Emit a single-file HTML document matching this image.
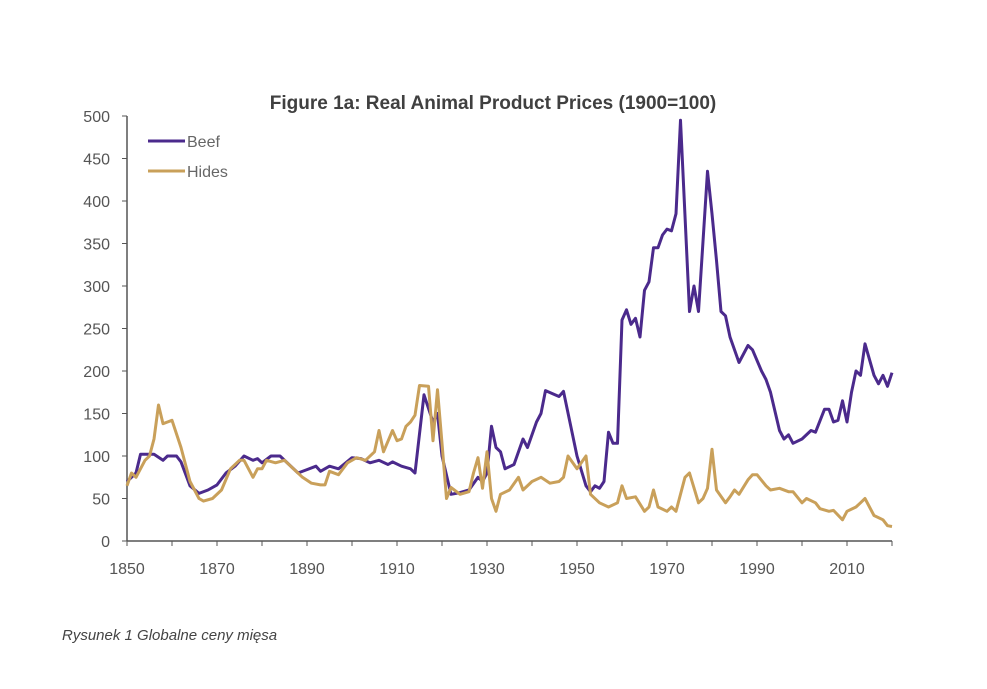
<!DOCTYPE html>
<html><head><meta charset="utf-8"><style>
body{margin:0;background:#fff;width:987px;height:684px;overflow:hidden;font-family:"Liberation Sans",sans-serif}
</style></head><body>
<svg width="987" height="684">
<text x="493" y="109" text-anchor="middle" font-size="19" font-weight="bold" fill="#404040">Figure 1a: Real Animal Product Prices (1900=100)</text>
<g id="axes"></g>
<g id="series"></g>
<g>
<line x1="148" y1="141" x2="185" y2="141" stroke="#4b2a8c" stroke-width="3"/>
<text x="187" y="147" font-size="16" fill="#666">Beef</text>
<line x1="148" y1="171" x2="185" y2="171" stroke="#c9a05a" stroke-width="3"/>
<text x="187" y="177" font-size="16" fill="#666">Hides</text>
</g>
<text x="62" y="640" font-size="15" font-style="italic" fill="#444">Rysunek 1 Globalne ceny mięsa</text>
</svg>
<script>
const yTicks=[0,50,100,150,200,250,300,350,400,450,500];
const xTicks=[1850,1870,1890,1910,1930,1950,1970,1990,2010];
const beefYears=[1850,1852,1853,1856,1858,1859,1861,1862,1864,1866,1868,1870,1872,1874,1876,1878,1879,1880,1882,1884,1886,1888,1890,1892,1893,1895,1897,1900,1902,1904,1906,1908,1909,1911,1913,1914,1916,1918,1919,1920,1922,1924,1926,1928,1929,1930,1931,1932,1933,1934,1936,1938,1939,1941,1942,1943,1946,1947,1950,1952,1953,1954,1955,1956,1957,1958,1959,1960,1961,1962,1963,1964,1965,1966,1967,1968,1969,1970,1971,1972,1973,1975,1976,1977,1979,1980,1981,1982,1983,1984,1986,1988,1989,1991,1992,1993,1995,1996,1997,1998,2000,2002,2003,2005,2006,2007,2008,2009,2010,2011,2012,2013,2014,2016,2017,2018,2019,2020];
const beefValues=[70,80,102,102,95,100,100,93,65,56,60,66,80,88,100,95,97,92,100,100,90,80,84,88,82,88,85,98,97,92,95,90,93,88,85,80,172,140,150,100,55,57,60,75,70,80,135,110,105,85,90,120,110,140,150,177,170,176,100,65,58,65,62,70,128,115,115,260,272,255,262,240,295,305,345,345,360,367,365,385,495,270,300,270,435,385,330,270,265,240,210,230,225,200,190,175,130,120,125,115,120,130,128,155,155,140,142,165,140,175,200,195,232,195,185,195,182,198];
const hidesYears=[1850,1851,1852,1853,1854,1855,1856,1857,1858,1859,1860,1862,1864,1866,1867,1869,1871,1873,1875,1876,1878,1879,1880,1881,1883,1885,1887,1889,1891,1893,1894,1895,1897,1899,1901,1903,1905,1906,1907,1909,1910,1911,1912,1913,1914,1915,1917,1918,1919,1920,1921,1922,1924,1926,1927,1928,1929,1930,1931,1932,1933,1935,1937,1938,1940,1942,1944,1946,1947,1948,1950,1952,1953,1955,1957,1959,1960,1961,1963,1965,1966,1967,1968,1970,1971,1972,1974,1975,1977,1978,1979,1980,1981,1983,1984,1985,1986,1988,1989,1990,1992,1993,1995,1997,1998,2000,2001,2003,2004,2006,2007,2009,2010,2012,2013,2014,2016,2018,2019,2020];
const hidesValues=[65,80,75,85,95,100,120,160,138,140,142,110,70,50,47,50,60,85,95,95,75,85,85,95,92,95,85,75,68,66,66,82,78,92,98,95,105,130,105,130,118,120,135,140,148,183,182,118,178,115,50,63,55,58,80,98,62,105,50,35,55,60,75,60,70,75,68,70,75,100,85,100,55,45,40,45,65,50,52,35,40,60,40,35,40,35,75,80,45,50,62,108,60,45,52,60,55,72,78,78,65,60,62,58,58,45,50,45,38,35,36,25,35,40,45,50,30,25,18,17];
const X=y=>127+(y-1850)*4.5;
const Y=v=>541-v*0.85;
const NS='http://www.w3.org/2000/svg';
const ax=document.getElementById('axes');
function mk(tag,attrs,parent){const e=document.createElementNS(NS,tag);for(const k in attrs)e.setAttribute(k,attrs[k]);parent.appendChild(e);return e;}
let l=mk('line',{x1:127,y1:Y(500),x2:127,y2:Y(0),stroke:'#555','stroke-width':1.5},ax);


l=mk('line',{x1:127,y1:Y(0),x2:X(2020),y2:Y(0),stroke:'#555','stroke-width':1.5},ax);


yTicks.forEach(v=>{
  mk('line',{x1:122,x2:127,y1:Y(v),y2:Y(v),stroke:'#555'},ax);
  const t=mk('text',{x:110,y:Y(v)+6,'text-anchor':'end','font-size':16,fill:'#555'},ax);
  t.textContent=v;
  
  
});
for(let yr=1850;yr<=2020;yr+=10){mk('line',{x1:X(yr),x2:X(yr),y1:Y(0),y2:Y(0)+5,stroke:'#555'},ax);}
xTicks.forEach(yr=>{
  const t=mk('text',{x:X(yr),y:Y(0)+33,'text-anchor':'middle','font-size':16,fill:'#555'},ax);
  t.textContent=yr;
  
  
});
const sg=document.getElementById('series');
function line(ys,vs,col,name){
  const d=ys.map((y,i)=>(i?'L':'M')+X(y).toFixed(1)+' '+Y(vs[i]).toFixed(1)).join(' ');
  const p=mk('path',{d:d,fill:'none',stroke:col,'stroke-width':3,'stroke-linejoin':'round'},sg);
  
  
}
line(beefYears,beefValues,'#4b2a8c','beef-line');
line(hidesYears,hidesValues,'#c9a05a','hides-line');
</script>
</body></html>
